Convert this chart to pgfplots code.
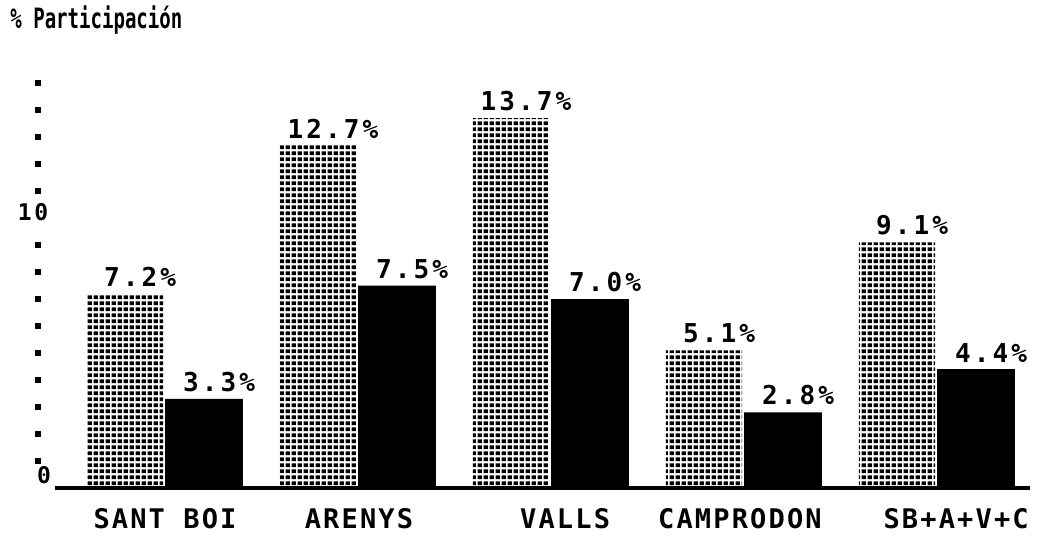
\documentclass[border=0pt]{standalone}
\usepackage{pgfplots}
\pgfplotsset{compat=1.18}
\usetikzlibrary{patterns}
\usepackage{fontspec}
\setmainfont{DejaVu Sans Mono}
\newfontfamily\pctfont{DejaVu Sans Mono}[LetterSpace=12]
\newfontfamily\catfont{DejaVu Sans Mono}[LetterSpace=8]
\newfontfamily\titfont{DejaVu Sans Mono}[FakeStretch=0.68]

\pgfdeclarepatternformonly{griddots}{\pgfqpoint{0pt}{0pt}}{\pgfqpoint{3.15pt}{3.15pt}}{\pgfqpoint{3.15pt}{3.15pt}}{%
  \pgfpathrectangle{\pgfqpoint{0.4pt}{0.5pt}}{\pgfqpoint{2.35pt}{2.1pt}}%
  \pgfusepath{fill}%
}

\begin{document}
\begin{tikzpicture}
\begin{axis}[
  x=96.5pt, y=13.5pt,
  xmin=-0.565, xmax=4.487, ymin=0, ymax=15.3,
  clip=false,
  axis line style={draw=none},
  major tick length=0pt,
  ytick=\empty,
  xtick={0.005,1.01,2.078,2.984,4.104},
  xticklabels={SANT BOI,ARENYS,VALLS,CAMPRODON,SB+A+V+C},
  xticklabel style={font=\catfont\bfseries\fontsize{13.5}{14}\selectfont, yshift=-6.5pt},
  every node near coord/.append style={font=\pctfont\bfseries\fontsize{13}{14}\selectfont, xshift=7.5pt, yshift=0pt},
]
% baseline
\addplot[black, line width=1.6pt, forget plot] coordinates {(-0.565,0) (4.487,0)};
% y-axis dots
\addplot[only marks, mark=square*, mark size=1.4pt, black] coordinates {
 (-0.653,1) (-0.653,2) (-0.653,3) (-0.653,4) (-0.653,5) (-0.653,6) (-0.653,7) (-0.653,8) (-0.653,9)
 (-0.653,11) (-0.653,12) (-0.653,13) (-0.653,14) (-0.653,15)};
% dotted bars
\addplot[ybar, bar width=0.395, bar shift=-0.202, draw=none, pattern=griddots, pattern color=black,
  point meta=explicit symbolic, nodes near coords,
  every node near coord/.append style={xshift=-19.5pt}] coordinates {
 (0,7.2) [7.2\%]
 (1,12.7) [12.7\%]
 (2,13.7) [13.7\%]
 (3,5.1) [5.1\%]
 (4,9.1) [9.1\%]
};
% black bars
\addplot[ybar, bar width=0.404, bar shift=0.207, draw=none, fill=black,
  point meta=explicit symbolic, nodes near coords,
  every node near coord/.append style={xshift=20pt}] coordinates {
 (0,3.3) [3.3\%]
 (1,7.5) [7.5\%]
 (2,7.0) [7.0\%]
 (3,2.8) [2.8\%]
 (4,4.4) [4.4\%]
};
\node[font=\pctfont\bfseries\fontsize{11.5}{12}\selectfont] at (axis cs:-0.622,0.48) {0};
\node[font=\pctfont\bfseries\fontsize{11.5}{12}\selectfont] at (axis cs:-0.679,10.2) {10};
\coordinate (O) at (axis cs:-0.565,0);
\end{axis}
\node[anchor=west, inner sep=0pt, font=\titfont\bfseries\fontsize{14}{15}\selectfont] at ([xshift=-22.5pt, yshift=234pt]O) {\% Participación};
\pgfresetboundingbox
\path[use as bounding box] ([xshift=-27.5pt, yshift=-27pt]O) rectangle ([xshift=491.5pt, yshift=244pt]O);
\end{tikzpicture}
\end{document}
